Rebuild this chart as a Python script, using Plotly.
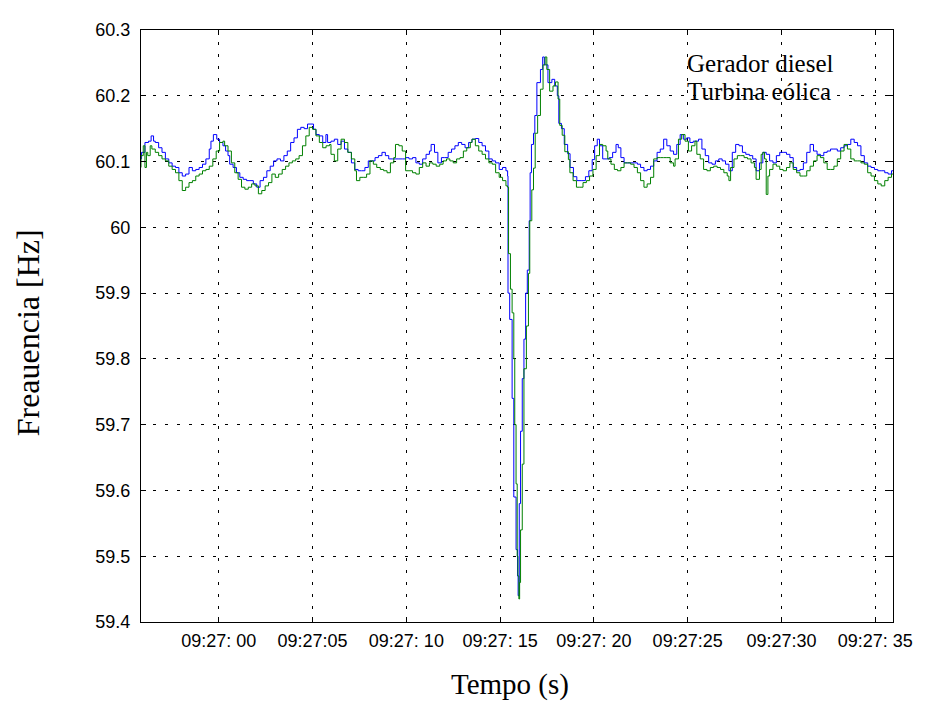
"""Frequency of diesel generator vs wind turbine around a load event (09:27)."""

import plotly.graph_objects as go

# time in seconds after 09:27:00, frequency in Hz
diesel_t = [
    -4.30, -4.12, -3.94, -3.75, -3.61, -3.48, -3.39, -3.21, -3.03, -2.85,
    -2.67, -2.49, -2.31, -2.13, -1.95, -1.77, -1.59, -1.41, -1.23, -1.05,
    -0.87, -0.69, -0.51, -0.42, -0.29, -0.11, 0.04, 0.22, 0.36, 0.49,
    0.58, 0.76, 0.94, 1.12, 1.30, 1.48, 1.66, 1.84, 2.02, 2.20,
    2.38, 2.56, 2.74, 2.92, 3.10, 3.29, 3.47, 3.65, 3.83, 4.01,
    4.19, 4.37, 4.55, 4.73, 4.91, 5.05, 5.18, 5.36, 5.54, 5.71,
    5.80, 5.98, 6.16, 6.34, 6.52, 6.70, 6.88, 7.07, 7.25, 7.43,
    7.61, 7.79, 7.97, 8.15, 8.33, 8.51, 8.70, 8.88, 9.06, 9.24,
    9.42, 9.60, 9.78, 9.96, 10.14, 10.33, 10.51, 10.69, 10.87, 11.05,
    11.23, 11.32, 11.50, 11.68, 11.87, 12.05, 12.23, 12.41, 12.59, 12.77,
    12.95, 13.13, 13.32, 13.50, 13.68, 13.86, 14.04, 14.22, 14.40, 14.58,
    14.76, 14.95, 15.13, 15.31, 15.40,
    15.42, 15.51, 15.64, 15.73, 15.85, 15.93, 15.96, 16.02, 16.09, 16.18,
    16.27, 16.36, 16.45, 16.55, 16.60, 16.67, 16.78, 16.85, 16.96, 17.15,
    17.27, 17.36, 17.55, 17.76, 17.91, 18.05, 18.13, 18.27, 18.42, 18.60,
    18.73, 18.91, 19.09, 19.36, 19.55, 19.73, 19.91,
    20.04, 20.18, 20.30, 20.47, 20.65, 20.82, 21.00, 21.18, 21.30, 21.44,
    21.61, 21.79, 21.96, 22.14, 22.32, 22.49, 22.67, 22.84, 23.02, 23.19,
    23.37, 23.54, 23.72, 23.89, 24.07, 24.25, 24.42, 24.60, 24.77, 24.95,
    25.12, 25.30,
    25.49, 25.58, 25.76, 25.94, 26.12, 26.30, 26.48, 26.66, 26.84, 27.02,
    27.20, 27.38, 27.56, 27.74, 27.92, 28.10, 28.29, 28.47, 28.65, 28.83,
    29.01, 29.19, 29.37, 29.55, 29.73, 29.91, 30.09, 30.27, 30.45, 30.63,
    30.81, 30.99, 31.17, 31.35, 31.53, 31.71, 31.90, 32.08, 32.26, 32.44,
    32.62, 32.80, 32.98, 33.16, 33.34, 33.52, 33.70, 33.88, 34.06, 34.24,
    34.42, 34.60, 34.78, 34.96, 35.14, 35.32, 35.51, 35.69, 35.87, 35.99,
]
diesel_hz = [
    60.104, 60.114, 60.129, 60.131, 60.139, 60.131, 60.129, 60.121, 60.114, 60.104,
    60.098, 60.093, 60.091, 60.083, 60.078, 60.081, 60.091, 60.086, 60.088, 60.091,
    60.096, 60.104, 60.119, 60.131, 60.141, 60.134, 60.129, 60.124, 60.116, 60.109,
    60.096, 60.091, 60.083, 60.076, 60.073, 60.071, 60.071, 60.066, 60.061, 60.071,
    60.076, 60.086, 60.093, 60.101, 60.104, 60.101, 60.109, 60.116, 60.129, 60.136,
    60.149, 60.152, 60.150, 60.157, 60.157, 60.149, 60.141, 60.139, 60.129, 60.141,
    60.129, 60.131, 60.134, 60.126, 60.131, 60.119, 60.114, 60.098, 60.088, 60.086,
    60.086, 60.091, 60.101, 60.101, 60.106, 60.109, 60.114, 60.109, 60.104, 60.104,
    60.104, 60.104, 60.104, 60.106, 60.104, 60.106, 60.098, 60.096, 60.104, 60.111,
    60.116, 60.126, 60.114, 60.098, 60.106, 60.106, 60.114, 60.119, 60.124, 60.129,
    60.126, 60.121, 60.129, 60.134, 60.135, 60.129, 60.124, 60.116, 60.104, 60.101,
    60.098, 60.088, 60.091, 60.086, 60.078,
    59.900, 59.860, 59.740, 59.590, 59.510, 59.470, 59.440, 59.580, 59.690, 59.770,
    59.830, 59.900, 59.935, 60.010, 60.083, 60.126, 60.143, 60.170, 60.220, 60.240,
    60.259, 60.247, 60.220, 60.225, 60.215, 60.200, 60.158, 60.150, 60.126, 60.112,
    60.091, 60.077, 60.071, 60.071, 60.077, 60.086, 60.103,
    60.124, 60.134, 60.124, 60.104, 60.104, 60.106, 60.114, 60.126, 60.121, 60.106,
    60.098, 60.098, 60.098, 60.098, 60.096, 60.091, 60.086, 60.088, 60.093, 60.101,
    60.114, 60.119, 60.134, 60.124, 60.116, 60.111, 60.126, 60.141, 60.134, 60.136,
    60.129, 60.131,
    60.131, 60.134, 60.119, 60.109, 60.098, 60.096, 60.101, 60.104, 60.101, 60.096,
    60.086, 60.114, 60.126, 60.124, 60.114, 60.111, 60.109, 60.104, 60.086, 60.098,
    60.114, 60.111, 60.101, 60.098, 60.109, 60.114, 60.114, 60.111, 60.106, 60.091,
    60.086, 60.088, 60.098, 60.114, 60.126, 60.116, 60.111, 60.109, 60.114, 60.116,
    60.119, 60.119, 60.116, 60.121, 60.124, 60.126, 60.134, 60.129, 60.124, 60.109,
    60.098, 60.093, 60.091, 60.088, 60.086, 60.086, 60.083, 60.081, 60.086, 60.088,
]

eolica_t = [
    -4.30, -4.15, -4.03, -3.94, -3.86, -3.79, -3.66, -3.57, -3.39, -3.21,
    -3.03, -2.85, -2.67, -2.49, -2.31, -2.13, -1.95, -1.77, -1.59, -1.41,
    -1.23, -1.05, -0.87, -0.69, -0.51, -0.32, -0.14, 0.04, 0.22, 0.31,
    0.49, 0.67, 0.85, 1.03, 1.21, 1.39, 1.57, 1.75, 1.93, 2.11,
    2.29, 2.47, 2.65, 2.83, 3.01, 3.19, 3.38, 3.56, 3.74, 3.92,
    4.10, 4.28, 4.46, 4.64, 4.82, 5.00, 5.18, 5.36, 5.54, 5.72,
    5.90, 5.98, 6.16, 6.34, 6.52, 6.70, 6.88, 7.07, 7.25, 7.34,
    7.52, 7.70, 7.88, 8.06, 8.24, 8.42, 8.61, 8.79, 8.97, 9.15,
    9.33, 9.42, 9.60, 9.78, 9.96, 10.14, 10.33, 10.51, 10.69, 10.87,
    11.05, 11.23, 11.41, 11.59, 11.78, 11.96, 12.14, 12.32, 12.50, 12.68,
    12.86, 13.04, 13.22, 13.41, 13.50, 13.68, 13.86, 14.04, 14.22, 14.40,
    14.58, 14.76, 14.95, 15.13, 15.31, 15.40,
    15.45, 15.55, 15.64, 15.73, 15.78, 15.85, 15.91, 15.95, 16.00, 16.04,
    16.09, 16.18, 16.27, 16.40, 16.51, 16.58, 16.69, 16.78, 16.87, 17.00,
    17.15, 17.29, 17.40, 17.49, 17.64, 17.82, 17.95, 18.09, 18.18, 18.31,
    18.45, 18.64,
    18.72, 18.89, 19.07, 19.25, 19.42, 19.60, 19.77, 19.95, 20.12, 20.30,
    20.47, 20.65, 20.74, 20.91, 21.09, 21.26, 21.44, 21.61, 21.79, 21.96,
    22.14, 22.32, 22.49, 22.67, 22.84, 23.02, 23.19, 23.37, 23.54, 23.72,
    23.89, 24.07, 24.25, 24.33, 24.51, 24.68, 24.86, 25.04, 25.21, 25.39,
    25.49, 25.67, 25.85, 26.03, 26.21, 26.39, 26.57, 26.75, 26.93, 27.11,
    27.20, 27.29, 27.47, 27.65, 27.83, 28.01, 28.19, 28.38, 28.56, 28.65,
    28.83, 28.92, 29.01, 29.10, 29.19, 29.28, 29.37, 29.55, 29.73, 29.91,
    30.09, 30.27, 30.45, 30.63, 30.81, 30.99, 31.17, 31.35, 31.53, 31.71,
    31.90, 32.08, 32.26, 32.44, 32.62, 32.80, 32.98, 33.16, 33.34, 33.52,
    33.70, 33.88, 34.06, 34.24, 34.42, 34.60, 34.78, 34.96, 35.14, 35.32,
    35.51, 35.69, 35.87, 35.99,
]
eolica_hz = [
    60.091, 60.109, 60.124, 60.091, 60.114, 60.109, 60.124, 60.119, 60.114, 60.109,
    60.104, 60.101, 60.093, 60.088, 60.083, 60.071, 60.056, 60.061, 60.068, 60.071,
    60.078, 60.081, 60.086, 60.088, 60.093, 60.104, 60.116, 60.129, 60.131, 60.124,
    60.116, 60.098, 60.083, 60.073, 60.061, 60.058, 60.061, 60.066, 60.063, 60.051,
    60.056, 60.063, 60.068, 60.081, 60.076, 60.081, 60.088, 60.093, 60.098, 60.101,
    60.104, 60.109, 60.124, 60.139, 60.152, 60.149, 60.139, 60.129, 60.121, 60.124,
    60.126, 60.111, 60.101, 60.119, 60.134, 60.129, 60.114, 60.104, 60.086, 60.071,
    60.076, 60.076, 60.081, 60.101, 60.096, 60.091, 60.088, 60.086, 60.083, 60.098,
    60.106, 60.126, 60.124, 60.116, 60.086, 60.086, 60.083, 60.081, 60.091, 60.098,
    60.093, 60.098, 60.096, 60.093, 60.096, 60.101, 60.104, 60.101, 60.098, 60.104,
    60.106, 60.116, 60.121, 60.129, 60.134, 60.124, 60.116, 60.111, 60.104, 60.098,
    60.096, 60.083, 60.076, 60.071, 60.063, 60.061,
    59.960, 59.906, 59.870, 59.800, 59.700, 59.610, 59.500, 59.470, 59.435, 59.460,
    59.540, 59.640, 59.785, 59.850, 59.930, 60.010, 60.057, 60.090, 60.143, 60.170,
    60.210, 60.247, 60.259, 60.240, 60.207, 60.215, 60.221, 60.195, 60.155, 60.140,
    60.115, 60.103,
    60.083, 60.071, 60.061, 60.061, 60.068, 60.071, 60.078, 60.088, 60.109, 60.126,
    60.124, 60.116, 60.104, 60.096, 60.088, 60.086, 60.091, 60.098, 60.098, 60.096,
    60.091, 60.083, 60.071, 60.061, 60.066, 60.076, 60.104, 60.106, 60.106, 60.106,
    60.106, 60.098, 60.093, 60.104, 60.134, 60.141, 60.131, 60.116, 60.124, 60.131,
    60.111, 60.104, 60.088, 60.086, 60.091, 60.093, 60.091, 60.088, 60.083, 60.078,
    60.071, 60.091, 60.104, 60.109, 60.109, 60.106, 60.104, 60.098, 60.091, 60.073,
    60.088, 60.111, 60.114, 60.104, 60.050, 60.078, 60.088, 60.096, 60.093, 60.088,
    60.086, 60.091, 60.098, 60.088, 60.083, 60.078, 60.078, 60.086, 60.093, 60.101,
    60.109, 60.106, 60.098, 60.088, 60.088, 60.093, 60.104, 60.116, 60.126, 60.119,
    60.104, 60.101, 60.101, 60.098, 60.096, 60.083, 60.078, 60.071, 60.066, 60.063,
    60.071, 60.076, 60.081, 60.083,
]

x_ticks = [0, 5, 10, 15, 20, 25, 30, 35]
x_labels = ["09:27: 00", "09:27:05", "09:27: 10", "09:27: 15",
            "09:27: 20", "09:27:25", "09:27:30", "09:27: 35"]
y_ticks = [59.4, 59.5, 59.6, 59.7, 59.8, 59.9, 60.0, 60.1, 60.2, 60.3]
y_labels = ["59.4", "59.5", "59.6", "59.7", "59.8", "59.9", "60", "60.1", "60.2", "60.3"]

assert len(diesel_t) == len(diesel_hz)
assert len(eolica_t) == len(eolica_hz)

SERIF = "Liberation Serif, Times New Roman, serif"
SANS = "Liberation Sans, Arial, sans-serif"

fig = go.Figure()
fig.add_trace(go.Scatter(
    x=diesel_t, y=diesel_hz, mode="lines", name="Gerador diesel",
    line=dict(color="#0000ff", width=1, shape="hv"),
))
fig.add_trace(go.Scatter(
    x=eolica_t, y=eolica_hz, mode="lines", name="Turbina eólica",
    line=dict(color="#008000", width=1, shape="hv"),
))

axis_common = dict(
    showline=True, linecolor="black", linewidth=1, mirror="ticks",
    ticks="inside", ticklen=5, tickcolor="black",
    showgrid=True, gridcolor="black", gridwidth=1, griddash="3px,9px",
    zeroline=False,
    tickfont=dict(family=SANS, size=18, color="black"),
)
fig.update_xaxes(
    range=[-4.15, 35.95], tickvals=x_ticks, ticktext=x_labels,
    ticklabelstandoff=2, **axis_common,
)
fig.update_yaxes(
    range=[59.4, 60.3], tickvals=y_ticks, ticktext=y_labels,
    ticklabelstandoff=6, **axis_common,
)

fig.add_annotation(text="Tempo (s)", xref="paper", yref="paper", x=0.491, y=-0.106,
                   yanchor="middle", showarrow=False,
                   font=dict(family=SERIF, size=29, color="black"))
fig.add_annotation(text="Freauencia [Hz]", xref="paper", yref="paper", x=-0.15, y=0.488,
                   xanchor="center", yanchor="middle", textangle=-90, showarrow=False,
                   font=dict(family=SERIF, size=32, color="black"))
fig.add_annotation(text="Gerador diesel", xref="paper", yref="paper", x=0.724, y=0.943,
                   xanchor="left", yanchor="middle", showarrow=False,
                   font=dict(family=SERIF, size=25, color="black"))
fig.add_annotation(text="Turbina eólica", xref="paper", yref="paper", x=0.724, y=0.896,
                   xanchor="left", yanchor="middle", showarrow=False,
                   font=dict(family=SERIF, size=25, color="black"))

# plotly's page adds an 8px body margin; margins below account for it
fig.update_layout(
    width=925, height=704,
    margin=dict(l=133, r=40, t=16, b=90),
    paper_bgcolor="white", plot_bgcolor="white",
    showlegend=False,
)
fig.write_html("out.html")
